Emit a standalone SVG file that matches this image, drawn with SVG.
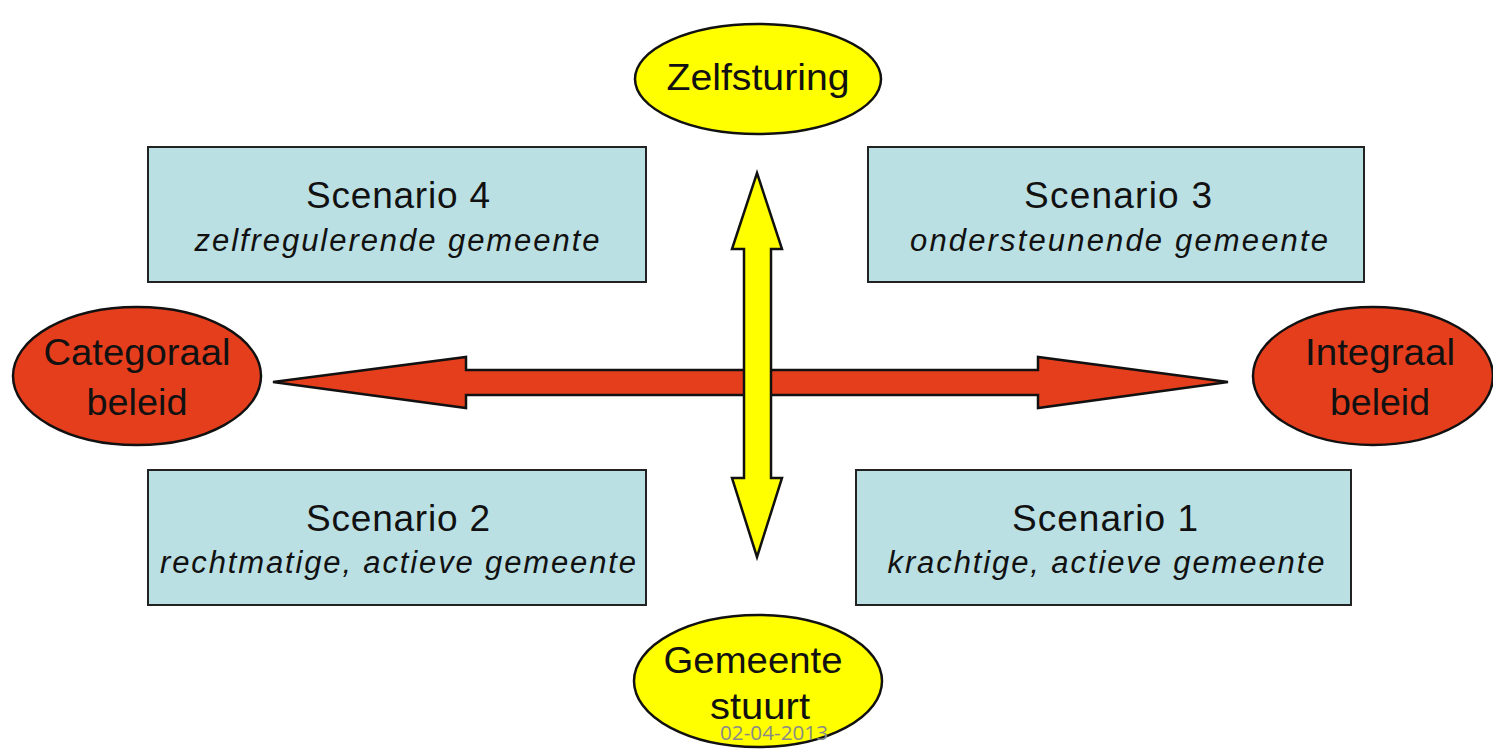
<svg xmlns="http://www.w3.org/2000/svg" width="1493" height="751" viewBox="0 0 1493 751">
<style>
.box{fill:#BBE0E3;stroke:#222;stroke-width:2}
.yel{fill:#FFFF00;stroke:#111;stroke-width:2.5}
.red{fill:#E53E1C;stroke:#111;stroke-width:2.5}
text{font-family:"Liberation Sans",Arial,sans-serif;fill:#111;text-anchor:middle}
.t{font-size:37px}
.i{font-size:31px;font-style:italic}
.e{font-size:36px}
.d{font-family:"Open Sans","Liberation Sans",sans-serif;font-size:20px;fill:#8a8a8a}
</style>
<rect width="1493" height="751" fill="#fff"/>
<g id="connectors">
<path class="red" d="M273,382 L466,357 L466,370 L1038,370 L1038,357 L1228,382 L1038,408 L1038,395 L466,395 L466,408 Z"/>
<path class="yel" d="M757,173 L782,249 L771,249 L771,478 L782,478 L757,557 L732,478 L744,478 L744,249 L732,249 Z"/>
</g>
<g id="zelfsturing">
<ellipse class="yel" cx="758" cy="79" rx="123" ry="55"/>
<text class="e" x="758" y="90" textLength="183" lengthAdjust="spacingAndGlyphs">Zelfsturing</text>
</g>
<g id="gemeente-stuurt">
<ellipse class="yel" cx="758" cy="681" rx="124" ry="66"/>
<text class="e" x="753" y="673" textLength="179" lengthAdjust="spacingAndGlyphs">Gemeente</text>
<text class="e" x="760" y="719" textLength="100" lengthAdjust="spacingAndGlyphs">stuurt</text>
</g>
<g id="categoraal">
<ellipse class="red" cx="137" cy="376" rx="124" ry="69"/>
<text class="e" x="137" y="365" textLength="187" lengthAdjust="spacingAndGlyphs">Categoraal</text>
<text class="e" x="137" y="415" textLength="101" lengthAdjust="spacingAndGlyphs">beleid</text>
</g>
<g id="integraal">
<ellipse class="red" cx="1373" cy="376" rx="120" ry="69"/>
<text class="e" x="1380" y="365" textLength="150" lengthAdjust="spacingAndGlyphs">Integraal</text>
<text class="e" x="1380" y="415" textLength="100" lengthAdjust="spacingAndGlyphs">beleid</text>
</g>
<g id="scenario4">
<rect class="box" x="148" y="147" width="498" height="135"/>
<text class="t" x="398" y="208" textLength="184" lengthAdjust="spacing">Scenario 4</text>
<text class="i" x="397" y="251" textLength="405" lengthAdjust="spacing">zelfregulerende gemeente</text>
</g>
<g id="scenario3">
<rect class="box" x="868" y="147" width="496" height="135"/>
<text class="t" x="1118" y="208" textLength="188" lengthAdjust="spacing">Scenario 3</text>
<text class="i" x="1119" y="251" textLength="418" lengthAdjust="spacing">ondersteunende gemeente</text>
</g>
<g id="scenario2">
<rect class="box" x="148" y="470" width="498" height="135"/>
<text class="t" x="398" y="531" textLength="184" lengthAdjust="spacing">Scenario 2</text>
<text class="i" x="398" y="573" textLength="476" lengthAdjust="spacing">rechtmatige, actieve gemeente</text>
</g>
<g id="scenario1">
<rect class="box" x="856" y="470" width="495" height="135"/>
<text class="t" x="1105" y="531" textLength="186" lengthAdjust="spacing">Scenario 1</text>
<text class="i" x="1106" y="573" textLength="437" lengthAdjust="spacing">krachtige, actieve gemeente</text>
</g>
<g id="date">
<text class="d" x="774" y="740" textLength="108" lengthAdjust="spacingAndGlyphs">02-04-2013</text>
</g>
</svg>
